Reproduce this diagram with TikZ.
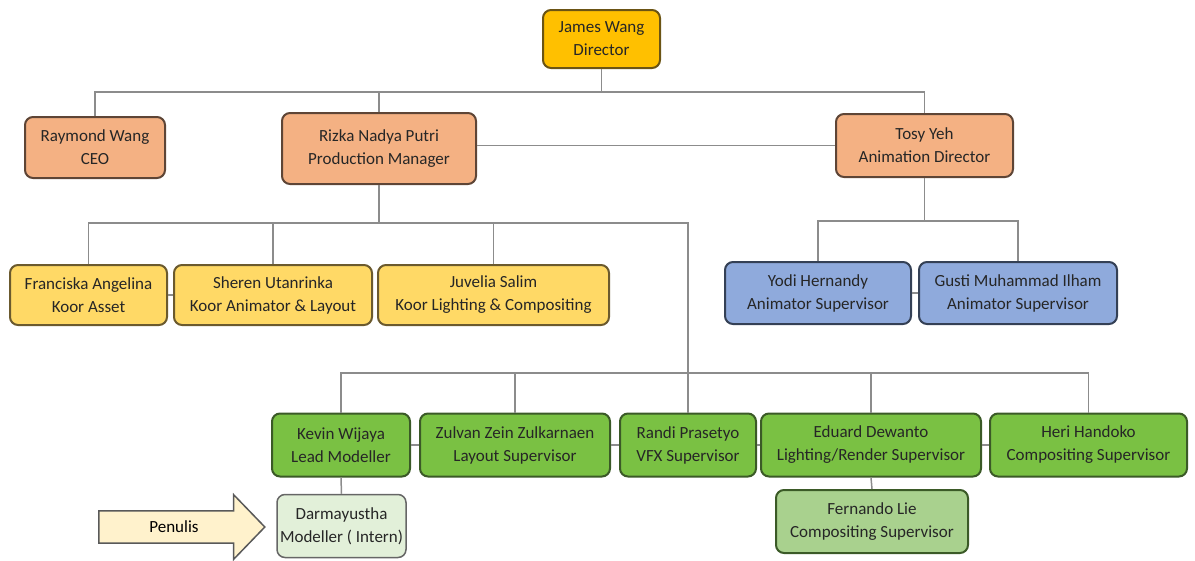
\documentclass[tikz,border=0pt]{standalone}
\usepackage{fontspec}
\setmainfont{Carlito}
\usetikzlibrary{shapes.arrows}

\definecolor{goldfill}{HTML}{FFC000}
\definecolor{goldline}{HTML}{6B5414}
\definecolor{orangefill}{HTML}{F4B183}
\definecolor{orangeline}{HTML}{5E4536}
\definecolor{yellowfill}{HTML}{FFD966}
\definecolor{yellowline}{HTML}{6B5A2E}
\definecolor{bluefill}{HTML}{8FAADC}
\definecolor{blueline}{HTML}{344055}
\definecolor{greenfill}{HTML}{7AC143}
\definecolor{greenline}{HTML}{3B5A27}
\definecolor{palegreen}{HTML}{E2F0D9}
\definecolor{midgreen}{HTML}{A9D18E}
\definecolor{creamfill}{HTML}{FFF2CC}
\definecolor{linegray}{HTML}{8C8C8C}

\begin{document}
\begin{tikzpicture}[x=1pt,y=-1pt,font=\fontsize{17}{23}\selectfont,
  box/.style={draw, line width=2pt, rounded corners=8pt, align=center,
    text=black!85, inner sep=0pt},
  gold box/.style={box, fill=goldfill, draw=goldline},
  orange box/.style={box, fill=orangefill, draw=orangeline},
  yellow box/.style={box, fill=yellowfill, draw=yellowline},
  blue box/.style={box, fill=bluefill, draw=blueline},
  green box/.style={box, fill=greenfill, draw=greenline},
  link/.style={draw=linegray, line width=1.5pt}]

  \useasboundingbox (0,0) rectangle (1195,560);

  % bus lines
  \coordinate (bus1) at (0,92);
  \coordinate (bus2) at (0,223);
  \coordinate (bus3) at (0,373);
  \coordinate (bus4) at (0,221);

  % top
  \node [gold box, minimum width=117pt, minimum height=58pt] (james) at (601.5,39) {James Wang\\Director};
  \node [orange box, minimum width=140pt, minimum height=61pt] (raymond) at (95,147.5) {Raymond Wang\\CEO};
  \node [orange box, minimum width=194pt, minimum height=71pt] (rizka) at (379,148.5) {Rizka Nadya Putri\\Production Manager};
  \node [orange box, minimum width=177pt, minimum height=63pt] (tosy) at (924.5,145.5) {Tosy Yeh\\Animation Director};

  % koor
  \node [yellow box, minimum width=157pt, minimum height=60pt] (fran) at (88.5,295) {Franciska Angelina\\Koor Asset};
  \node [yellow box, minimum width=198pt, minimum height=60pt] (sheren) at (273,295) {Sheren Utanrinka\\Koor Animator \& Layout};
  \node [yellow box, minimum width=231pt, minimum height=60pt] (juvelia) at (493.5,295) {Juvelia Salim\\Koor Lighting \& Compositing};

  % animator
  \node [blue box, minimum width=186pt, minimum height=62pt] (yodi) at (818,293) {Yodi Hernandy\\Animator Supervisor};
  \node [blue box, minimum width=198pt, minimum height=62pt] (gusti) at (1018,293) {Gusti Muhammad Ilham\\Animator Supervisor};

  % supervisors
  \node [green box, minimum width=138pt, minimum height=63pt] (kevin) at (341,445) {Kevin Wijaya\\Lead Modeller};
  \node [green box, minimum width=190pt, minimum height=63pt] (zulvan) at (515,445) {Zulvan Zein Zulkarnaen\\Layout Supervisor};
  \node [green box, minimum width=136pt, minimum height=63pt] (randi) at (688,445) {Randi Prasetyo\\VFX Supervisor};
  \node [green box, minimum width=220pt, minimum height=63pt] (eduard) at (871,445) {Eduard Dewanto\\Lighting/Render Supervisor};
  \node [green box, minimum width=197pt, minimum height=63pt] (heri) at (1088.5,445) {Heri Handoko\\Compositing Supervisor};

  \node [box, fill=palegreen, draw=black!60, line width=1.5pt, minimum width=129pt, minimum height=63pt] (darma) at (341.5,526) {Darmayustha\\Modeller ( Intern)};
  \node [box, fill=midgreen, draw=greenline, minimum width=192pt, minimum height=63pt] (fernando) at (872,521.5) {Fernando Lie\\Compositing Supervisor};

  \node [single arrow, draw=black!65, fill=creamfill, line width=1.5pt, inner xsep=0pt, inner ysep=9.5pt,
    minimum height=166pt, single arrow head extend=16pt, single arrow tip angle=92] (penulis) at (174,527) {Penulis};

  % connectors
  \path [link] (raymond.north) |- (tosy.north |- bus1) -- (tosy.north);
  \path [link] (james.south) -- (james.south |- bus1);
  \path [link] (rizka.north) -- (rizka.north |- bus1);
  \path [link] (rizka.east |- tosy.west) -- (tosy.west);

  \path [link] (rizka.south) -- (rizka.south |- bus2);
  \path [link] (fran.north) |- (randi.north |- bus2) -- (randi.north);
  \path [link] (sheren.north) -- (sheren.north |- bus2);
  \path [link] (juvelia.north) -- (juvelia.north |- bus2);

  \path [link] (tosy.south) -- (tosy.south |- bus4);
  \path [link] (yodi.north) |- (gusti.north |- bus4) -- (gusti.north);

  \path [link] (kevin.north) |- (heri.north |- bus3) -- (heri.north);
  \path [link] (zulvan.north) -- (zulvan.north |- bus3);
  \path [link] (eduard.north) -- (eduard.north |- bus3);

  \path [link] (kevin.south) -- (darma.north);
  \path [link] (eduard.south) -- (fernando.north);

  % stubs between neighbours
  \path [link] (fran.east) -- (sheren.west);
  \path [link] (yodi.east) -- (gusti.west);
  \path [link] (kevin.east) -- (zulvan.west);
  \path [link] (zulvan.east) -- (randi.west);
  \path [link] (randi.east) -- (eduard.west);
  \path [link] (eduard.east) -- (heri.west);

\end{tikzpicture}
\end{document}
